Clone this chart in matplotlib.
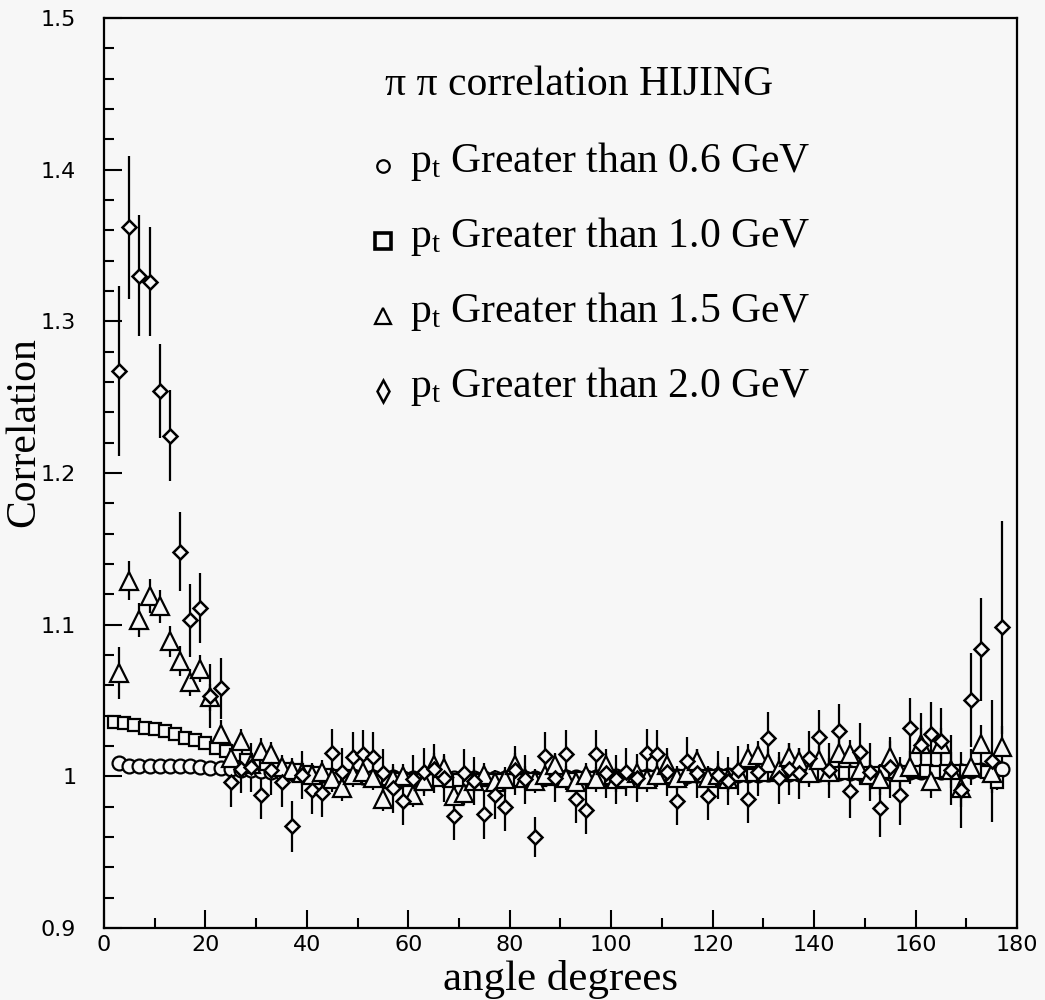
import numpy as np
import matplotlib.pyplot as plt
from matplotlib.lines import Line2D
from matplotlib.ticker import MultipleLocator, FixedLocator, FixedFormatter

# bin centres (degrees)
angle_odd = np.arange(3, 178, 2)
angle_even = np.arange(2, 177, 2)

# pt > 0.6 GeV (circles)
corr_06 = [1.009, 1.007, 1.007, 1.007, 1.007, 1.007, 1.0068, 1.0065, 1.006, 1.0058,
           1.0055, 1.005, 1.0045, 1.004, 1.0035, 1.003, 1.0025, 1.002, 1.0015, 1.001,
           1.0008, 1.0005, 1.0003, 1.0, 0.9998, 0.9996, 0.9995, 0.9993, 0.9992, 0.999,
           0.999, 0.9989, 0.9988, 0.9988, 0.9987, 0.9987, 0.9988, 0.9988, 0.9989, 0.999,
           0.999, 0.9991, 0.9992, 0.9993, 0.9994, 0.9995, 0.9996, 0.9997, 0.9998, 0.9999,
           1.0, 1.0, 1.0001, 1.0002, 1.0003, 1.0004, 1.0005, 1.0006, 1.0007, 1.0008,
           1.0009, 1.001, 1.0011, 1.0012, 1.0013, 1.0014, 1.0015, 1.0016, 1.0017, 1.0018,
           1.0019, 1.002, 1.0021, 1.0022, 1.0023, 1.0024, 1.0025, 1.0026, 1.0027, 1.0028,
           1.003, 1.0031, 1.0033, 1.0035, 1.0037, 1.004, 1.0045, 1.005]
err_06 = [0.001] * 88

# pt > 1.0 GeV (squares)
corr_10 = [1.036, 1.035, 1.034, 1.032, 1.031, 1.030, 1.028, 1.025, 1.024, 1.022,
           1.019, 1.0166, 1.014, 1.011, 1.009, 1.008, 1.006, 1.005, 1.004, 1.003,
           1.002, 1.001, 1.0005, 1.000, 0.9995, 0.999, 0.9985, 0.998, 0.998, 0.9978,
           0.9975, 0.9978, 0.9975, 0.9972, 0.9975, 0.9973, 0.9976, 0.9974, 0.9977, 0.9976,
           0.9978, 0.998, 0.9979, 0.9982, 0.9984, 0.9983, 0.9986, 0.9988, 0.9987, 0.999,
           0.9992, 0.9991, 0.9994, 0.9996, 0.9995, 0.9998, 1.0, 0.9999, 1.0002, 1.0004,
           1.0003, 1.0006, 1.0008, 1.0007, 1.001, 1.0012, 1.0011, 1.0014, 1.0016, 1.0015,
           1.0018, 1.002, 1.0019, 1.0022, 1.0024, 1.0023, 1.0026, 1.0028, 1.0027, 1.003,
           1.0032, 1.003, 1.0034, 1.0036, 1.0035, 1.004, 1.003, 0.996]
err_10 = [0.002] * 80 + [0.003] * 6 + [0.004, 0.005]

# pt > 1.5 GeV (triangles)
corr_15 = [1.068, 1.129, 1.103, 1.119, 1.112, 1.089, 1.076, 1.062, 1.071, 1.052,
           1.028, 1.012, 1.023, 1.008, 1.017, 1.0145, 1.006, 1.004, 1.002, 1.001,
           1.003, 0.998, 0.992, 1.001, 1.003, 0.999, 0.985, 0.998, 1.000, 0.988,
           0.997, 1.0075, 1.0055, 0.987, 0.989, 0.997, 1.001, 0.996, 0.998, 1.0075,
           0.999, 0.997, 1.001, 1.0075, 0.999, 0.996, 1.001, 0.998, 1.0077, 0.998,
           0.999, 1.002, 0.998, 1.001, 1.0077, 0.999, 1.002, 1.0099, 0.999, 1.001,
           0.998, 1.003, 1.012, 1.0143, 1.009, 1.004, 1.013, 1.0099, 1.002, 1.011,
           1.003, 1.0154, 1.015, 1.004, 1.001, 0.998, 1.013, 1.003, 1.006, 1.021,
           0.9967, 1.021, 1.004, 0.992, 1.006, 1.021, 1.002, 1.0194]
err_15 = [0.017, 0.013, 0.011, 0.011, 0.011, 0.010, 0.010, 0.009, 0.009, 0.009,
          0.009, 0.008, 0.008, 0.008, 0.008, 0.008, 0.008, 0.008, 0.008, 0.008,
          0.008, 0.008, 0.008, 0.008, 0.008, 0.008, 0.008, 0.008, 0.008, 0.008,
          0.008, 0.008, 0.008, 0.008, 0.008, 0.008, 0.008, 0.008, 0.008, 0.008,
          0.008, 0.008, 0.008, 0.008, 0.008, 0.008, 0.008, 0.008, 0.008, 0.008,
          0.008, 0.008, 0.008, 0.008, 0.008, 0.008, 0.008, 0.008, 0.008, 0.008,
          0.008, 0.008, 0.009, 0.009, 0.009, 0.009, 0.009, 0.009, 0.009, 0.009,
          0.009, 0.009, 0.009, 0.010, 0.010, 0.010, 0.010, 0.010, 0.011, 0.011,
          0.011, 0.011, 0.012, 0.012, 0.012, 0.013, 0.013, 0.014]

# pt > 2.0 GeV (diamonds)
corr_20 = [1.267, 1.362, 1.330, 1.326, 1.254, 1.2245, 1.148, 1.103, 1.111, 1.053,
           1.058, 0.996, 1.005, 1.006, 0.988, 1.004, 0.996, 0.967, 1.001, 0.991,
           0.989, 1.0154, 1.003, 1.013, 1.0148, 1.013, 1.002, 0.992, 0.984, 0.998,
           1.003, 1.005, 0.999, 0.974, 1.002, 0.997, 0.975, 0.988, 0.980, 1.004,
           0.998, 0.960, 1.0132, 0.999, 1.0145, 0.985, 0.978, 1.0145, 1.002, 0.998,
           1.003, 0.999, 1.0154, 1.0145, 1.003, 0.984, 1.0099, 1.002, 0.987, 1.001,
           0.997, 1.004, 0.985, 1.003, 1.0254, 0.999, 1.005, 1.002, 1.012, 1.0258,
           1.004, 1.0298, 0.9905, 1.016, 1.003, 0.979, 1.006, 0.988, 1.0316, 1.0205,
           1.028, 1.0232, 1.004, 0.991, 1.0503, 1.0839, 1.010, 1.0982]
err_20 = [0.056, 0.047, 0.040, 0.036, 0.031, 0.030, 0.026, 0.024, 0.023, 0.021,
          0.020, 0.016, 0.016, 0.016, 0.016, 0.016, 0.016, 0.017, 0.016, 0.016,
          0.016, 0.016, 0.016, 0.016, 0.016, 0.016, 0.016, 0.016, 0.016, 0.016,
          0.016, 0.016, 0.016, 0.016, 0.016, 0.016, 0.016, 0.016, 0.016, 0.016,
          0.016, 0.013, 0.016, 0.016, 0.016, 0.016, 0.016, 0.016, 0.016, 0.016,
          0.016, 0.016, 0.016, 0.016, 0.016, 0.016, 0.016, 0.016, 0.016, 0.016,
          0.016, 0.016, 0.016, 0.016, 0.017, 0.017, 0.017, 0.017, 0.018, 0.018,
          0.018, 0.018, 0.018, 0.019, 0.019, 0.019, 0.020, 0.020, 0.020, 0.021,
          0.021, 0.022, 0.023, 0.025, 0.031, 0.034, 0.040, 0.070]

legend_title = 'π π correlation HIJING'
legend_labels = ['Greater than 0.6 GeV', 'Greater than 1.0 GeV',
                 'Greater than 1.5 GeV', 'Greater than 2.0 GeV']

plt.rcParams['mathtext.fontset'] = 'custom'
plt.rcParams['mathtext.rm'] = 'Liberation Serif'
plt.rcParams['mathtext.it'] = 'Liberation Serif:italic'

bg = '#f7f7f7'
fig = plt.figure(figsize=(10.45, 10), dpi=100, facecolor=bg)
ax = fig.add_axes([0.0995, 0.072, 0.8737, 0.91], facecolor=bg)

style = dict(mfc=bg, mec='black', ecolor='black', elinewidth=1.6, capsize=0, linestyle='none')
ax.errorbar(angle_odd, corr_06, yerr=err_06, marker='o', ms=10, mew=1.6, **style)
ax.errorbar(angle_even, corr_10, yerr=err_10, marker='s', ms=9, mew=1.6, **style)
ax.errorbar(angle_odd, corr_15, yerr=err_15, marker='^', ms=13, mew=1.6, **style)
ax.errorbar(angle_odd, corr_20, yerr=err_20, marker='D', ms=7.5, mew=1.8, **style)

ax.set_xlim(0, 180)
ax.set_ylim(0.9, 1.5)
ax.xaxis.set_major_locator(MultipleLocator(20))
ax.xaxis.set_minor_locator(MultipleLocator(10))
ax.yaxis.set_major_locator(FixedLocator([0.9, 1.0, 1.1, 1.2, 1.3, 1.4, 1.5]))
ax.yaxis.set_major_formatter(FixedFormatter(['0.9', '1', '1.1', '1.2', '1.3', '1.4', '1.5']))
ax.yaxis.set_minor_locator(MultipleLocator(0.02))
ax.tick_params(which='both', direction='in', width=1.5, top=False, right=False,
               labelsize=16, colors='black')
ax.tick_params(axis='y', which='major', length=13, pad=20)
ax.tick_params(axis='y', which='minor', length=7)
ax.tick_params(axis='x', which='major', length=13, pad=5)
ax.tick_params(axis='x', which='minor', length=7)
for sp in ax.spines.values():
    sp.set_linewidth(1.6)

ax.set_xlabel('angle degrees', family='Liberation Serif', fontsize=31)
ax.set_ylabel('Correlation', family='Liberation Serif', fontsize=30)
ax.xaxis.set_label_coords(0.5, -0.035)
ax.yaxis.set_label_coords(-0.066, 0.545)

# legend block
fig.text(0.3684, 0.905, legend_title, family='Liberation Serif', fontsize=30, va='baseline')
key_markers = ['o', 's', '^', 'd']
key_sizes = [9, 11, 11, 11]
key_widths = [1.6, 2.6, 1.6, 1.8]
for i in range(4):
    yb = 0.828 - 0.075 * i
    fig.add_artist(Line2D([0.3665], [yb + 0.006], marker=key_markers[i], ms=key_sizes[i],
                          mfc=bg, mec='black', mew=key_widths[i], transform=fig.transFigure))
    fig.text(0.3923, yb, r'p$_\mathrm{t}$ ' + legend_labels[i], family='Liberation Serif',
             fontsize=30, va='baseline')

fig.savefig('out.png', dpi=100, facecolor=bg)
